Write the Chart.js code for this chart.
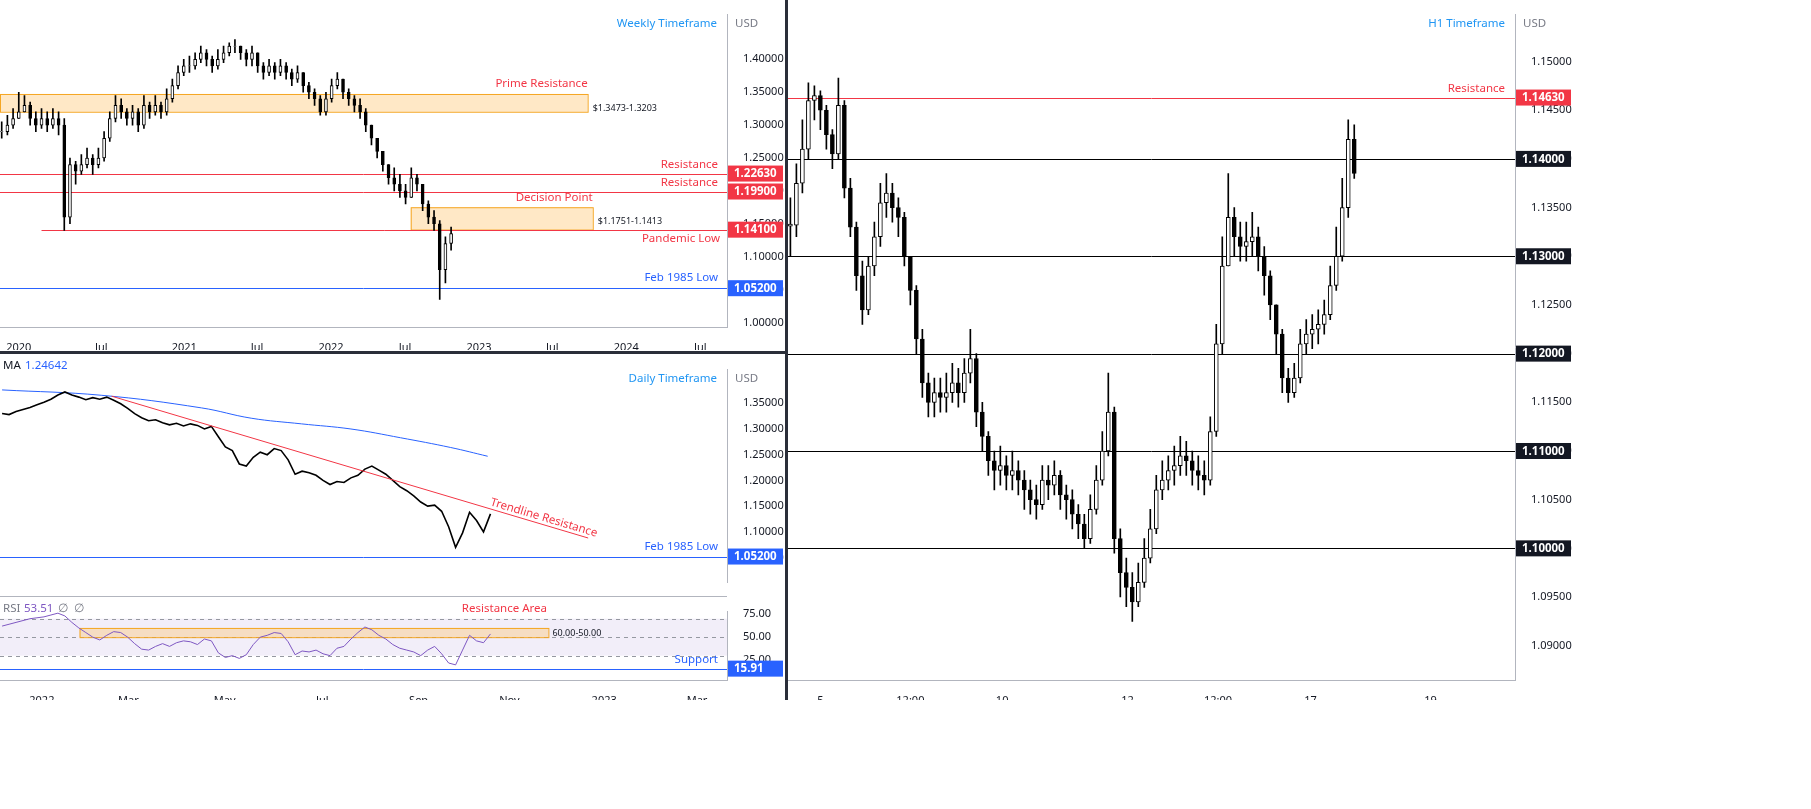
<!DOCTYPE html>
<html>
<head>
<meta charset="utf-8">
<script src="https://cdn.jsdelivr.net/npm/chart.js@4.4.0/dist/chart.umd.min.js"></script>
<style>
  body { margin: 0; width: 1811px; height: 809px; background: #fff; position: relative; overflow: hidden; font-family: "Noto Sans", sans-serif; }
  canvas { position: absolute; }
  .sep { position: absolute; background: #2a2e39; }
</style>
</head>
<body>
<canvas id="weekly" width="785" height="350" style="left:0px;top:0px"></canvas>
<canvas id="daily" width="785" height="242" style="left:0px;top:355px"></canvas>
<canvas id="rsi" width="785" height="103" style="left:0px;top:597px"></canvas>
<canvas id="h1" width="1023" height="700" style="left:788px;top:0px"></canvas>
<div class="sep" style="left:785px;top:0;width:3px;height:700px"></div>
<div class="sep" style="left:0;top:351px;width:785px;height:3px"></div>
<div class="sep" style="left:0;top:596px;width:727px;height:1px;background:#b2b5be"></div>
<script>
// ---- weekly (2-week steps) ----
const weeklyClose = [1.29,1.30,1.31,1.32,1.33,1.31,1.30,1.31,1.30,1.31, 1.30,1.16,1.24,1.23,1.24,1.25,1.24,1.25,1.28,1.31,
  1.33,1.32,1.31,1.32,1.30,1.33,1.32,1.33,1.32,1.34, 1.36,1.38,1.39,1.39,1.40,1.41,1.40,1.39,1.40,1.41,
  1.42,1.42,1.41,1.40,1.41,1.39,1.38,1.39,1.38,1.39, 1.38,1.37,1.38,1.36,1.35,1.34,1.32,1.34,1.36,1.37,
  1.35,1.34,1.33,1.32,1.30,1.28,1.26,1.24,1.22,1.21, 1.20,1.19,1.22,1.21,1.18,1.16,1.15,1.08,1.12,1.135];
const weeklyHigh = [1.305,1.315,1.325,1.35,1.345,1.335,1.32,1.325,1.32,1.325, 1.32,1.31,1.25,1.245,1.255,1.265,1.255,1.265,1.29,1.32,
  1.345,1.34,1.325,1.33,1.325,1.345,1.335,1.345,1.335,1.355, 1.37,1.39,1.40,1.405,1.41,1.42,1.415,1.405,1.415,1.42,
  1.425,1.43,1.42,1.415,1.42,1.405,1.395,1.40,1.395,1.40, 1.395,1.385,1.39,1.38,1.365,1.355,1.345,1.35,1.37,1.38,
  1.37,1.355,1.345,1.34,1.325,1.30,1.28,1.26,1.24,1.235, 1.225,1.21,1.235,1.225,1.21,1.185,1.17,1.155,1.13,1.145];
const weeklyLow = [1.28,1.285,1.295,1.31,1.32,1.30,1.29,1.295,1.29,1.295, 1.285,1.14,1.15,1.21,1.225,1.235,1.225,1.235,1.245,1.275,
  1.305,1.31,1.30,1.30,1.29,1.295,1.31,1.315,1.31,1.315, 1.335,1.355,1.375,1.38,1.385,1.395,1.39,1.38,1.385,1.395,
  1.405,1.41,1.40,1.39,1.39,1.38,1.37,1.375,1.37,1.375, 1.37,1.36,1.365,1.35,1.34,1.33,1.315,1.315,1.335,1.355,
  1.34,1.33,1.32,1.31,1.29,1.27,1.25,1.23,1.21,1.20, 1.19,1.18,1.19,1.20,1.17,1.15,1.14,1.035,1.06,1.11];
const weeklyTickPos = [3, 17.5, 32.1, 44.9, 57.9, 70.9, 83.9, 96.8, 109.8, 122.8];
const weeklyTickLabels = ["2020","Jul","2021","Jul","2022","Jul","2023","Jul","2024","Jul"];

// ---- daily ----
const dailyClose = [1.330,1.328,1.334,1.338,1.342,1.347,1.352,1.358,1.366,1.372,1.366,1.362,1.357,1.361,1.358,1.362,1.356,1.349,1.340,1.330,
  1.322,1.316,1.318,1.312,1.308,1.311,1.306,1.310,1.307,1.300,1.305,1.285,1.265,1.258,1.232,1.228,1.245,1.255,1.250,1.262,
  1.258,1.240,1.212,1.218,1.215,1.210,1.200,1.192,1.198,1.196,1.205,1.210,1.222,1.228,1.220,1.212,1.200,1.188,1.180,1.170,
  1.158,1.150,1.152,1.140,1.110,1.070,1.098,1.138,1.122,1.100,1.135];
const dailyMaX = [0, 14.3, 28.6, 35.7, 42.9, 50, 57.1, 64.3, 69.6];
const dailyMa = [1.376, 1.3655, 1.341, 1.321, 1.310, 1.300, 1.283, 1.264, 1.247];
const rsiValues = [62,64,66,68,70,71,72,74,76,73, 66,60,55,50,47,52,56,55,50,43, 37,36,40,43,40,44,46,45,42,48,
  46,33,28,30,27,31,42,50,52,55, 54,45,31,35,34,36,32,30,38,40, 48,55,61,58,52,48,42,38,36,34,
  30,36,40,32,22,20,36,52,46,44,53.5];
const dailyTickPos = [5.7, 18.1, 31.9, 45.9, 59.7, 72.7, 86.3, 99.6];
const dailyTickLabels = ["2022","Mar","May","Jul","Sep","Nov","2023","Mar"];

// ---- H1 ----
const h1Close = [1.1332,1.1375,1.1410,1.1460,1.1465,1.1450,1.1425,1.1405,1.1455,1.1370,
  1.1330,1.1280,1.1245,1.1290,1.1320,1.1355,1.1365,1.1350,1.1340,1.1300,
  1.1265,1.1215,1.1170,1.1150,1.1160,1.1155,1.1160,1.1170,1.1160,1.1180,
  1.1195,1.1140,1.1115,1.1090,1.1080,1.1085,1.1075,1.1080,1.1070,1.1060,
  1.1050,1.1045,1.1070,1.1065,1.1075,1.1055,1.1050,1.1035,1.1025,1.1010,
  1.1040,1.1070,1.1100,1.1140,1.1010,1.0975,1.0960,1.0945,1.0965,1.0990,
  1.1020,1.1060,1.1070,1.1080,1.1085,1.1095,1.1090,1.1080,1.1075,1.1070,
  1.1120,1.1210,1.1290,1.1340,1.1320,1.1310,1.1315,1.1320,1.1300,1.1280,
  1.1250,1.1220,1.1175,1.1160,1.1175,1.1210,1.1220,1.1225,1.1230,1.1240,
  1.1270,1.1300,1.1350,1.1420,1.1385];
const h1High = [1.1360,1.1395,1.1440,1.1478,1.1475,1.1470,1.1455,1.1430,1.1483,1.1460,
  1.1380,1.1335,1.1295,1.1300,1.1335,1.1375,1.1385,1.1375,1.1360,1.1345,
  1.1300,1.1270,1.1225,1.1180,1.1175,1.1175,1.1180,1.1190,1.1185,1.1195,
  1.1225,1.1200,1.1150,1.1120,1.1100,1.1105,1.1095,1.1100,1.1090,1.1080,
  1.1070,1.1065,1.1085,1.1085,1.1090,1.1080,1.1065,1.1060,1.1045,1.1035,
  1.1055,1.1085,1.1120,1.1180,1.1145,1.1020,1.0990,1.0975,1.0985,1.1010,
  1.1040,1.1075,1.1090,1.1095,1.1105,1.1115,1.1110,1.1100,1.1095,1.1090,
  1.1135,1.1230,1.1320,1.1385,1.1350,1.1335,1.1335,1.1345,1.1330,1.1310,
  1.1285,1.1250,1.1225,1.1185,1.1190,1.1225,1.1235,1.1240,1.1245,1.1255,
  1.1290,1.1330,1.1380,1.1440,1.1435];
const h1Low = [1.1300,1.1320,1.1365,1.1400,1.1440,1.1430,1.1410,1.1390,1.1400,1.1360,
  1.1320,1.1265,1.1230,1.1240,1.1280,1.1310,1.1340,1.1335,1.1320,1.1290,
  1.1250,1.1200,1.1155,1.1135,1.1135,1.1140,1.1140,1.1150,1.1145,1.1150,
  1.1170,1.1125,1.1100,1.1075,1.1060,1.1065,1.1060,1.1060,1.1055,1.1040,
  1.1035,1.1030,1.1040,1.1050,1.1055,1.1040,1.1030,1.1020,1.1010,1.1000,
  1.1005,1.1035,1.1065,1.1095,1.0995,1.0950,1.0940,1.0925,1.0940,1.0960,
  1.0985,1.1015,1.1050,1.1060,1.1065,1.1075,1.1075,1.1065,1.1060,1.1055,
  1.1065,1.1115,1.1200,1.1290,1.1300,1.1295,1.1295,1.1300,1.1285,1.1260,
  1.1235,1.1200,1.1160,1.1150,1.1155,1.1170,1.1200,1.1205,1.1210,1.1220,
  1.1235,1.1265,1.1295,1.1340,1.1380];
const h1TickPos = [5, 20, 35.3, 56.2, 71.3, 86.7, 106.7];
const h1TickLabels = ["5","12:00","10","12","12:00","17","19"];
const h1Levels = [1.14, 1.13, 1.12, 1.11, 1.10];

const FONT = '"Noto Sans", sans-serif';
const TXT = '#131722';
const RED = '#f23645', BLUE = '#2962ff', ORANGE = '#f5a623';
Chart.defaults.font.family = FONT;
Chart.defaults.font.size = 11;
Chart.defaults.color = TXT;
Chart.defaults.animation = false;

function candleSets(close, high, low, bodyW) {
  const wick = [], body = [], fill = [];
  close.forEach((c, i) => {
    const o = i === 0 ? c : close[i - 1];
    const hi = Math.max(high[i], o, c), lo = Math.min(low[i], o, c);
    wick.push({ x: i, y: [lo, hi] });
    const b = Math.abs(c - o) < 0.0002 ? [o - 0.0001, o + 0.0001] : [o, c];
    body.push({ x: i, y: b });
    fill.push(c >= o ? '#ffffff' : '#000000');
  });
  return [
    { type: 'bar', data: wick, backgroundColor: '#000', barThickness: 1, grouped: false, order: 2 },
    { type: 'bar', data: body, backgroundColor: fill, borderColor: '#000', borderWidth: 1,
      borderSkipped: false, barThickness: bodyW, grouped: false, order: 1 }
  ];
}

// topGap: skip tick labels too close to the top edge (the USD caption sits there)
function yAxis(min, max, step, width, fmt, topGap) {
  return {
    position: 'right', min, max,
    grid: { display: false },
    border: { display: true, color: '#b2b5be' },
    afterFit: s => { s.width = width; },
    afterBuildTicks: s => {
      const t = [];
      const lim = max - (max - min) * topGap;
      for (let v = Math.ceil(min / step) * step; v <= lim; v += step) t.push({ value: +v.toFixed(6) });
      s.ticks = t;
    },
    ticks: { padding: 8, callback: v => fmt(v) }
  };
}

function xAxis(min, max, pos, labels, show, h) {
  return {
    type: 'linear', min, max, offset: false,
    grid: { display: false, offset: false },
    border: { display: show, color: '#b2b5be' },
    afterFit: s => { s.height = h; },
    afterBuildTicks: s => { s.ticks = pos.map(v => ({ value: v })); },
    ticks: { display: show, maxRotation: 0, autoSkip: false, padding: 6,
      callback: (v, i) => labels[i] }
  };
}

function text(ctx, str, x, y, color, align, size) {
  ctx.save();
  ctx.font = (size || 11.5) + 'px ' + FONT;
  ctx.fillStyle = color; ctx.textAlign = align || 'left'; ctx.textBaseline = 'middle';
  ctx.fillText(str, x, y);
  ctx.restore();
}
function hline(ctx, y, x0, x1, color, dash) {
  ctx.save(); ctx.strokeStyle = color; ctx.lineWidth = 1; if (dash) ctx.setLineDash(dash);
  ctx.beginPath(); ctx.moveTo(x0, Math.round(y) + 0.5); ctx.lineTo(x1, Math.round(y) + 0.5); ctx.stroke();
  ctx.restore();
}
function priceBox(chart, v, str, bg) {
  const ctx = chart.ctx, y = chart.scales.y.getPixelForValue(v), x = chart.chartArea.right + 1;
  ctx.save(); ctx.fillStyle = bg; ctx.fillRect(x, y - 8, 55, 16);
  ctx.font = 'bold 11.5px ' + FONT; ctx.fillStyle = '#fff'; ctx.textBaseline = 'middle';
  ctx.fillText(str, x + 6, y + 0.5); ctx.restore();
}
function zone(chart, x0, x1, v0, v1) {
  const s = chart.scales, ctx = chart.ctx;
  const a = s.x.getPixelForValue(x0), b = s.x.getPixelForValue(x1);
  const t = s.y.getPixelForValue(v0), u = s.y.getPixelForValue(v1);
  ctx.save(); ctx.fillStyle = 'rgba(255,183,77,0.32)'; ctx.fillRect(a, t, b - a, u - t);
  ctx.strokeStyle = ORANGE; ctx.lineWidth = 1; ctx.strokeRect(a + 0.5, t + 0.5, b - a, u - t); ctx.restore();
}
function header(chart, title) {
  const ctx = chart.ctx, r = chart.chartArea.right;
  text(ctx, title, r - 10, chart.chartArea.top + 9, '#2196f3', 'right');
  text(ctx, 'USD', r + 8, chart.chartArea.top + 9, '#787b86', 'left');
}

// ---- Weekly chart ----
new Chart(document.getElementById('weekly'), {
  data: { datasets: candleSets(weeklyClose, weeklyHigh, weeklyLow, 3) },
  options: {
    responsive: false, layout: { padding: 0 },
    plugins: { legend: { display: false }, tooltip: { enabled: false } },
    scales: {
      x: xAxis(-0.3, 127.5, weeklyTickPos, weeklyTickLabels, true, 23),
      y: yAxis(0.993, 1.468, 0.05, 58, v => v.toFixed(5), 0.08)
    }
  },
  plugins: [{
    id: 'wNotes',
    beforeDatasetsDraw(c) {
      const ctx = c.ctx, s = c.scales, L = c.chartArea.left, R = c.chartArea.right, y = v => s.y.getPixelForValue(v);
      zone(c, -0.3, 103, 1.3473, 1.3203);
      zone(c, 71.9, 103.9, 1.1751, 1.1413);
      hline(ctx, y(1.2263), L, R, RED);
      hline(ctx, y(1.1990), L, R, RED);
      hline(ctx, y(1.1410), s.x.getPixelForValue(7), R, RED);
      hline(ctx, y(1.0520), L, R, BLUE);
    },
    afterDraw(c) {
      const ctx = c.ctx, s = c.scales, y = v => s.y.getPixelForValue(v), R = c.chartArea.right;
      header(c, 'Weekly Timeframe');
      text(ctx, 'Prime Resistance', s.x.getPixelForValue(103), y(1.3473) - 10, RED, 'right');
      text(ctx, '$1.3473-1.3203', s.x.getPixelForValue(103) + 5, y(1.3203) - 3, TXT, 'left', 9);
      text(ctx, 'Resistance', R - 9, y(1.2263) - 9, RED, 'right');
      text(ctx, 'Resistance', R - 9, y(1.1990) - 9, RED, 'right');
      text(ctx, 'Decision Point', s.x.getPixelForValue(103.9), y(1.1751) - 10, RED, 'right');
      text(ctx, '$1.1751-1.1413', s.x.getPixelForValue(103.9) + 5, y(1.1413) - 8, TXT, 'left', 9);
      text(ctx, 'Pandemic Low', R - 7, y(1.1410) + 9, RED, 'right');
      text(ctx, 'Feb 1985 Low', R - 9, y(1.0520) - 10, BLUE, 'right');
      priceBox(c, 1.2263, '1.22630', RED);
      priceBox(c, 1.1990, '1.19900', RED);
      priceBox(c, 1.1410, '1.14100', RED);
      priceBox(c, 1.0520, '1.05200', BLUE);
    }
  }]
});

// ---- Daily chart ----
new Chart(document.getElementById('daily'), {
  type: 'line',
  data: { datasets: [
    { data: dailyClose.map((v, i) => ({ x: i, y: v })), borderColor: '#000', borderWidth: 1.6, pointRadius: 0, tension: 0 },
    { data: dailyMaX.map((x, i) => ({ x, y: dailyMa[i] })), borderColor: BLUE, borderWidth: 1, pointRadius: 0, tension: 0.4 }
  ] },
  options: {
    responsive: false, layout: { padding: 0 },
    plugins: { legend: { display: false }, tooltip: { enabled: false } },
    scales: {
      x: xAxis(-0.3, 103.9, dailyTickPos, dailyTickLabels, false, 0),
      y: yAxis(1.0017, 1.4155, 0.05, 58, v => v.toFixed(5), 0.1)
    }
  },
  plugins: [{
    id: 'dNotes',
    afterDatasetsDraw(c) {
      const ctx = c.ctx, s = c.scales, y = v => s.y.getPixelForValue(v), R = c.chartArea.right;
      const x0 = s.x.getPixelForValue(15.7), y0 = y(1.3638), x1 = s.x.getPixelForValue(84), y1 = y(1.088);
      ctx.save(); ctx.strokeStyle = RED; ctx.lineWidth = 1; ctx.beginPath(); ctx.moveTo(x0, y0); ctx.lineTo(x1, y1); ctx.stroke();
      ctx.translate(543, 166); ctx.rotate(Math.atan2(y1 - y0, x1 - x0));
      ctx.font = '11.5px ' + FONT; ctx.fillStyle = RED; ctx.textAlign = 'center'; ctx.fillText('Trendline Resistance', 0, 0);
      ctx.restore();
      hline(ctx, y(1.0520), c.chartArea.left, R, BLUE);
      text(ctx, 'Feb 1985 Low', R - 9, y(1.0520) - 10, BLUE, 'right');
      priceBox(c, 1.0520, '1.05200', BLUE);
      header(c, 'Daily Timeframe');
      text(ctx, 'MA', 3, 11, TXT); text(ctx, '1.24642', 25, 11, BLUE);
    }
  }]
});

// ---- RSI ----
new Chart(document.getElementById('rsi'), {
  type: 'line',
  data: { datasets: [
    { data: rsiValues.map((v, i) => ({ x: i, y: v })), borderColor: '#7e57c2', borderWidth: 1, pointRadius: 0, tension: 0 }
  ] },
  options: {
    responsive: false, layout: { padding: 0 },
    plugins: { legend: { display: false }, tooltip: { enabled: false } },
    scales: {
      x: xAxis(-0.3, 103.9, dailyTickPos, dailyTickLabels, true, 20),
      y: yAxis(3.6, 77.7, 25, 58, v => v.toFixed(2), 0)
    }
  },
  plugins: [{
    id: 'rNotes',
    beforeDatasetsDraw(c) {
      const ctx = c.ctx, s = c.scales, y = v => s.y.getPixelForValue(v), L = c.chartArea.left, R = c.chartArea.right;
      ctx.save(); ctx.fillStyle = 'rgba(126,87,194,0.1)'; ctx.fillRect(L, y(70), R - L, y(30) - y(70)); ctx.restore();
      [70, 50, 30].forEach(v => hline(ctx, y(v), L, R, '#9598a1', [4, 4]));
      zone(c, 11.1, 78.3, 60, 50);
      hline(ctx, y(15.91), L, R, BLUE);
    },
    afterDraw(c) {
      const ctx = c.ctx, s = c.scales, y = v => s.y.getPixelForValue(v), R = c.chartArea.right;
      text(ctx, 'RSI', 3, 12, '#787b86'); text(ctx, '53.51', 24, 12, '#7e57c2'); text(ctx, '∅  ∅', 58, 12, '#787b86');
      text(ctx, 'Resistance Area', s.x.getPixelForValue(72), 12, RED, 'center');
      text(ctx, '60.00-50.00', s.x.getPixelForValue(78.3) + 4, y(50) - 4, TXT, 'left', 9);
      text(ctx, 'Support', R - 9, y(15.91) - 9, BLUE, 'right');
      priceBox(c, 15.91, '15.91', BLUE);
    }
  }]
});

// ---- H1 chart ----
new Chart(document.getElementById('h1'), {
  data: { datasets: candleSets(h1Close, h1High, h1Low, 4) },
  options: {
    responsive: false, layout: { padding: 0 },
    plugins: { legend: { display: false }, tooltip: { enabled: false } },
    scales: {
      x: xAxis(-0.4, 120.8, h1TickPos, h1TickLabels, true, 20),
      y: yAxis(1.08648, 1.15482, 0.005, 296, v => v.toFixed(5), 0)
    }
  },
  plugins: [{
    id: 'hNotes',
    beforeDatasetsDraw(c) {
      const ctx = c.ctx, s = c.scales, L = c.chartArea.left, R = c.chartArea.right;
      h1Levels.forEach(v => hline(ctx, s.y.getPixelForValue(v), L, R, '#000'));
      hline(ctx, s.y.getPixelForValue(1.1463), L, R, RED);
    },
    afterDraw(c) {
      const ctx = c.ctx, s = c.scales, R = c.chartArea.right;
      header(c, 'H1 Timeframe');
      text(ctx, 'Resistance', R - 10, s.y.getPixelForValue(1.1463) - 9, RED, 'right');
      priceBox(c, 1.1463, '1.14630', RED);
      h1Levels.forEach(v => priceBox(c, v, v.toFixed(5), '#131722'));
    }
  }]
});
</script>
</body>
</html>
